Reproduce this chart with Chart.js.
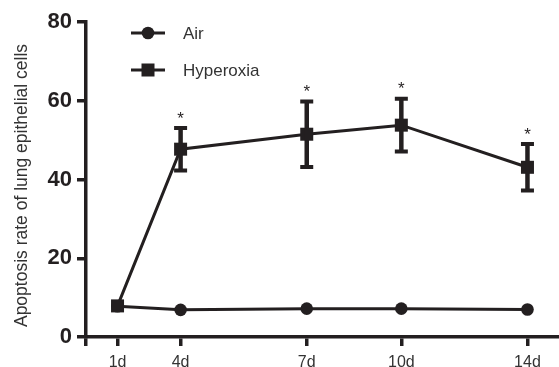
<!DOCTYPE html>
<html>
<head>
<meta charset="utf-8">
<script src="https://cdn.jsdelivr.net/npm/chart.js@4"></script>
<style>
  html, body { margin: 0; padding: 0; background: #fff; }
  #wrap { width: 559px; height: 367px; }
</style>
</head>
<body>
<div id="wrap"><canvas id="chart"></canvas></div>
<script>
// days as shown on the axis, and where the figure places them
const dayLabels = ["1d", "4d", "7d", "10d", "14d"];
const dayPositions = [1, 3, 7, 10, 14];

const airValues = [7.8, 6.9, 7.2, 7.2, 7.0];
const hyperoxiaValues = [7.9, 47.7, 51.5, 53.8, 43.1];
const hyperoxiaSD = [0, 5.4, 8.3, 6.7, 5.9];
const significant = [false, true, true, true, true];

const yTicks = [0, 20, 40, 60, 80];
const yTitle = "Apoptosis rate of lung epithelial cells";

const INK = "#231f20";
const FONT = "'Liberation Sans', Arial, sans-serif";

const toPoints = (vals) => vals.map((v, i) => ({ x: dayPositions[i], y: v }));

// error bars + asterisks for hyperoxia
const errorBars = {
  id: "errorBars",
  afterDatasetsDraw(chart) {
    const { ctx, scales } = chart;
    const x = scales.x, y = scales.y;
    ctx.save();
    ctx.strokeStyle = INK;
    ctx.fillStyle = INK;
    hyperoxiaValues.forEach((v, i) => {
      const sd = hyperoxiaSD[i];
      const px = x.getPixelForValue(dayPositions[i]);
      const top = y.getPixelForValue(v + sd);
      const bot = y.getPixelForValue(v - sd);
      if (sd > 0) {
        ctx.lineWidth = 4.5;
        ctx.beginPath();
        ctx.moveTo(px, top);
        ctx.lineTo(px, bot);
        ctx.stroke();
        ctx.lineWidth = 4;
        ctx.beginPath();
        ctx.moveTo(px - 6.5, top);
        ctx.lineTo(px + 6.5, top);
        ctx.moveTo(px - 6.5, bot);
        ctx.lineTo(px + 6.5, bot);
        ctx.stroke();
      }
      if (significant[i]) {
        ctx.font = "17px " + FONT;
        ctx.textAlign = "center";
        ctx.textBaseline = "middle";
        ctx.fillText("*", px, top - 9);
      }
    });
    ctx.restore();
  },
};

// legend with line + marker, and the rotated y title
const extras = {
  id: "extras",
  afterDraw(chart) {
    const { ctx, chartArea } = chart;
    const items = [
      { label: "Air", style: "circle", y: 33 },
      { label: "Hyperoxia", style: "rect", y: 70 },
    ];
    ctx.save();
    items.forEach((it) => {
      ctx.strokeStyle = INK;
      ctx.fillStyle = INK;
      ctx.lineWidth = 3;
      ctx.beginPath();
      ctx.moveTo(131, it.y);
      ctx.lineTo(165, it.y);
      ctx.stroke();
      if (it.style === "circle") {
        ctx.beginPath();
        ctx.arc(148, it.y, 6.3, 0, Math.PI * 2);
        ctx.fill();
      } else {
        ctx.fillRect(141.5, it.y - 6.5, 13, 13);
      }
      ctx.fillStyle = "#333";
      ctx.font = "17px " + FONT;
      ctx.textAlign = "left";
      ctx.textBaseline = "middle";
      ctx.fillText(it.label, 183, it.y + 1);
    });

    ctx.translate(22, (chartArea.top + chartArea.bottom) / 2 + 6);
    ctx.rotate(-Math.PI / 2);
    ctx.fillStyle = "#333";
    ctx.font = "17.5px " + FONT;
    ctx.textAlign = "center";
    ctx.textBaseline = "middle";
    ctx.fillText(yTitle, 0, 0);
    ctx.restore();
  },
};

new Chart(document.getElementById("chart"), {
  type: "line",
  data: {
    datasets: [
      {
        label: "Hyperoxia",
        data: toPoints(hyperoxiaValues),
        borderColor: INK,
        backgroundColor: INK,
        borderWidth: 3,
        pointStyle: "rect",
        pointRadius: 9.2,
        pointBorderWidth: 0,
        tension: 0,
        order: 1,
      },
      {
        label: "Air",
        data: toPoints(airValues),
        borderColor: INK,
        backgroundColor: INK,
        borderWidth: 3,
        pointStyle: "circle",
        pointRadius: 6.3,
        pointBorderWidth: 0,
        tension: 0,
        order: 2,
      },
    ],
  },
  options: {
    responsive: true,
    maintainAspectRatio: false,
    animation: false,
    layout: {
      autoPadding: false,
      padding: { top: 22, left: 0, right: 0, bottom: 0 },
    },
    plugins: {
      legend: { display: false },
      tooltip: { enabled: false },
    },
    scales: {
      x: {
        type: "linear",
        min: 0,
        max: 15,
        afterFit(scale) {
          scale.height = 30;
          scale.paddingLeft = 0;
          scale.paddingRight = 0;
        },
        afterBuildTicks(scale) {
          scale.ticks = [0].concat(dayPositions).map((v) => ({ value: v }));
        },
        ticks: {
          autoSkip: false,
          maxRotation: 0,
          padding: 7,
          color: "#333",
          font: { family: FONT, size: 16 },
          callback(value) {
            const idx = dayPositions.indexOf(value);
            return idx >= 0 ? dayLabels[idx] : "";
          },
        },
        grid: {
          drawOnChartArea: false,
          drawTicks: true,
          tickLength: 9,
          lineWidth: 3.5,
          color: INK,
        },
        border: { display: true, color: INK, width: 3.5 },
      },
      y: {
        min: 0,
        max: 80,
        afterFit(scale) {
          scale.width = 86;
        },
        afterBuildTicks(scale) {
          scale.ticks = yTicks.map((v) => ({ value: v }));
        },
        ticks: {
          padding: 5,
          color: INK,
          font: { family: FONT, size: 22, weight: "bold" },
        },
        grid: {
          drawOnChartArea: false,
          drawTicks: true,
          tickLength: 9,
          lineWidth: 3.5,
          color: INK,
        },
        border: { display: true, color: INK, width: 3.5 },
      },
    },
  },
  plugins: [errorBars, extras],
});
</script>
</body>
</html>
